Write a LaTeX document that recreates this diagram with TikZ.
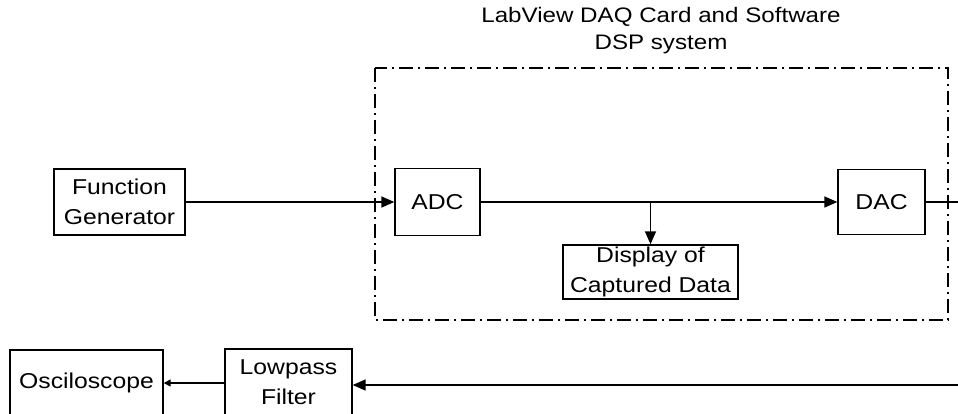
\documentclass[tikz,border=0pt]{standalone}
\usepackage{fontspec}
\setmainfont[FakeStretch=1.15]{Liberation Sans}
\usepackage{tikz}
\usetikzlibrary{arrows.meta,positioning,calc}

\begin{document}
\begin{tikzpicture}[
  x=1pt, y=-1pt,
  box/.style={draw, line width=1.4pt, inner sep=2pt, align=center,
              font=\fontsize{21.5}{30}\selectfont},
  arr/.style={-{Triangle[length=13pt,width=11pt]}, line width=1.6pt},
  sarr/.style={-{Triangle[length=7pt,width=7pt]}, line width=1.3pt},
  line/.style={line width=1.6pt},
  sysbox/.style={line width=1.5pt, dash pattern=on 14pt off 5pt on 2pt off 5pt},
  title/.style={align=center, font=\fontsize{21}{27}\selectfont}
]
\useasboundingbox (0,0) rectangle (958,413);
\clip (0,0) rectangle (958,413);

% DSP system frame
\draw[sysbox] (375,68) rectangle (948,320);
\node[title] (ttl) at (661,31) {LabView DAQ Card and Software\\DSP system};

% blocks
\node[box, minimum width=131pt, minimum height=66pt] (fgen) at (119.5,202) {Function\\Generator};
\node[box, minimum width=85pt, minimum height=67pt]  (adc)  at (437.5,202) {ADC};
\node[box, minimum width=87pt, minimum height=65pt]  (dac)  at (881.5,202) {DAC};
\node[box, minimum width=175pt, minimum height=52pt] (disp) at (650.5,272) {Display of\\Captured Data};
\node[box, minimum width=127pt, minimum height=66pt] (lpf)  at (288.5,382) {Lowpass\\Filter};
\node[box, minimum width=153pt, minimum height=66pt] (osc)  at (86.5,383)  {Osciloscope};

% loose ends at the right edge
\coordinate (dacout) at (958,202);
\coordinate (retin)  at (958,385);

% connections
\draw[arr]  (fgen.east) -- (adc.west);
\draw[arr]  (adc.east) -- (dac.west);
\draw[arr]  (disp.north |- adc.east) -- (disp.north);
\draw[line] (dac.east) -- (dacout);
\draw[arr]  (retin) -- (lpf.east |- retin);
\draw[sarr] (lpf.west |- osc.east) -- (osc.east);

\end{tikzpicture}
\end{document}
